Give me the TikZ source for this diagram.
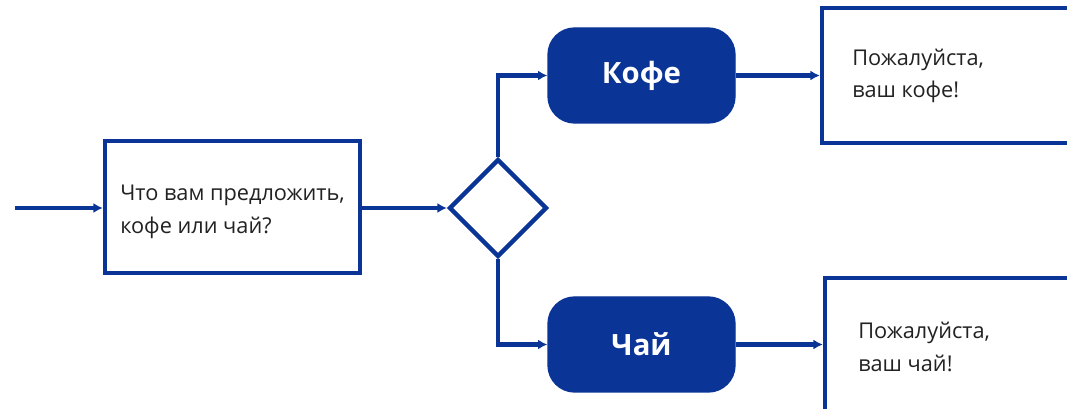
\documentclass[tikz,border=0pt]{standalone}
\usepackage{fontspec}
\setmainfont{Open Sans}
\usetikzlibrary{arrows.meta,shapes.geometric}
\definecolor{fblue}{RGB}{10,52,150}
\definecolor{ftext}{RGB}{34,34,34}
\tikzset{
  px/.style={x={(0.75pt,0)},y={(0,-0.75pt)}},
  plainbox/.style={draw=fblue,line width=3.3pt,fill=white,rectangle,inner sep=0pt},
  actbox/.style={draw=fblue,fill=fblue,line width=1pt,rectangle,rounded corners=20pt,inner sep=0pt,
     minimum width=140.25pt,minimum height=71.25pt,text=white,font=\bfseries\fontsize{22}{26}\selectfont},
  decision/.style={draw=fblue,line width=3.3pt,fill=white,diamond,aspect=1,inner sep=0pt,minimum size=73.5pt},
  txt/.style={text=ftext,align=left,anchor=west,inner sep=0pt,font=\fontsize{16.3}{24.5}\selectfont},
  conn/.style={draw=fblue,line width=3.3pt,-{Latex[length=7pt,width=7.5pt]}}
}
\begin{document}
\begin{tikzpicture}[px]
\useasboundingbox (0,0) rectangle (1067,409);
\clip (0,0) rectangle (1067,409);
\coordinate (start) at (15,208);
\node[plainbox,minimum width=191.25pt,minimum height=99pt] (q) at (232.5,207) {};
\node[txt] (qt) at (120,212) {Что вам предложить,\\кофе или чай?};
\node[decision] (d) at (498,208) {};
\node[actbox] (kofe) at (641.5,75.5) {Кофе};
\node[actbox] (chai) at (641.5,344.5) {Чай};
\node[plainbox,minimum width=201pt,minimum height=101.25pt] (a1) at (956,75.5) {};
\node[txt] (a1t) at (852,76) {Пожалуйста,\\ваш кофе!};
\node[plainbox,minimum width=198.75pt,minimum height=114pt] (a2) at (957.5,354) {};
\node[txt] (a2t) at (858,347) {Пожалуйста,\\ваш чай!};
\draw[conn] (start) -- (q.west |- start);
\draw[conn] (q.east |- d.west) -- (d.west);
\draw[conn] (d.north) |- (kofe.west);
\draw[conn] (d.south) |- (chai.west);
\draw[conn] (kofe.east) -- (a1.west |- kofe.east);
\draw[conn] (chai.east) -- (a2.west |- chai.east);
\end{tikzpicture}
\end{document}
